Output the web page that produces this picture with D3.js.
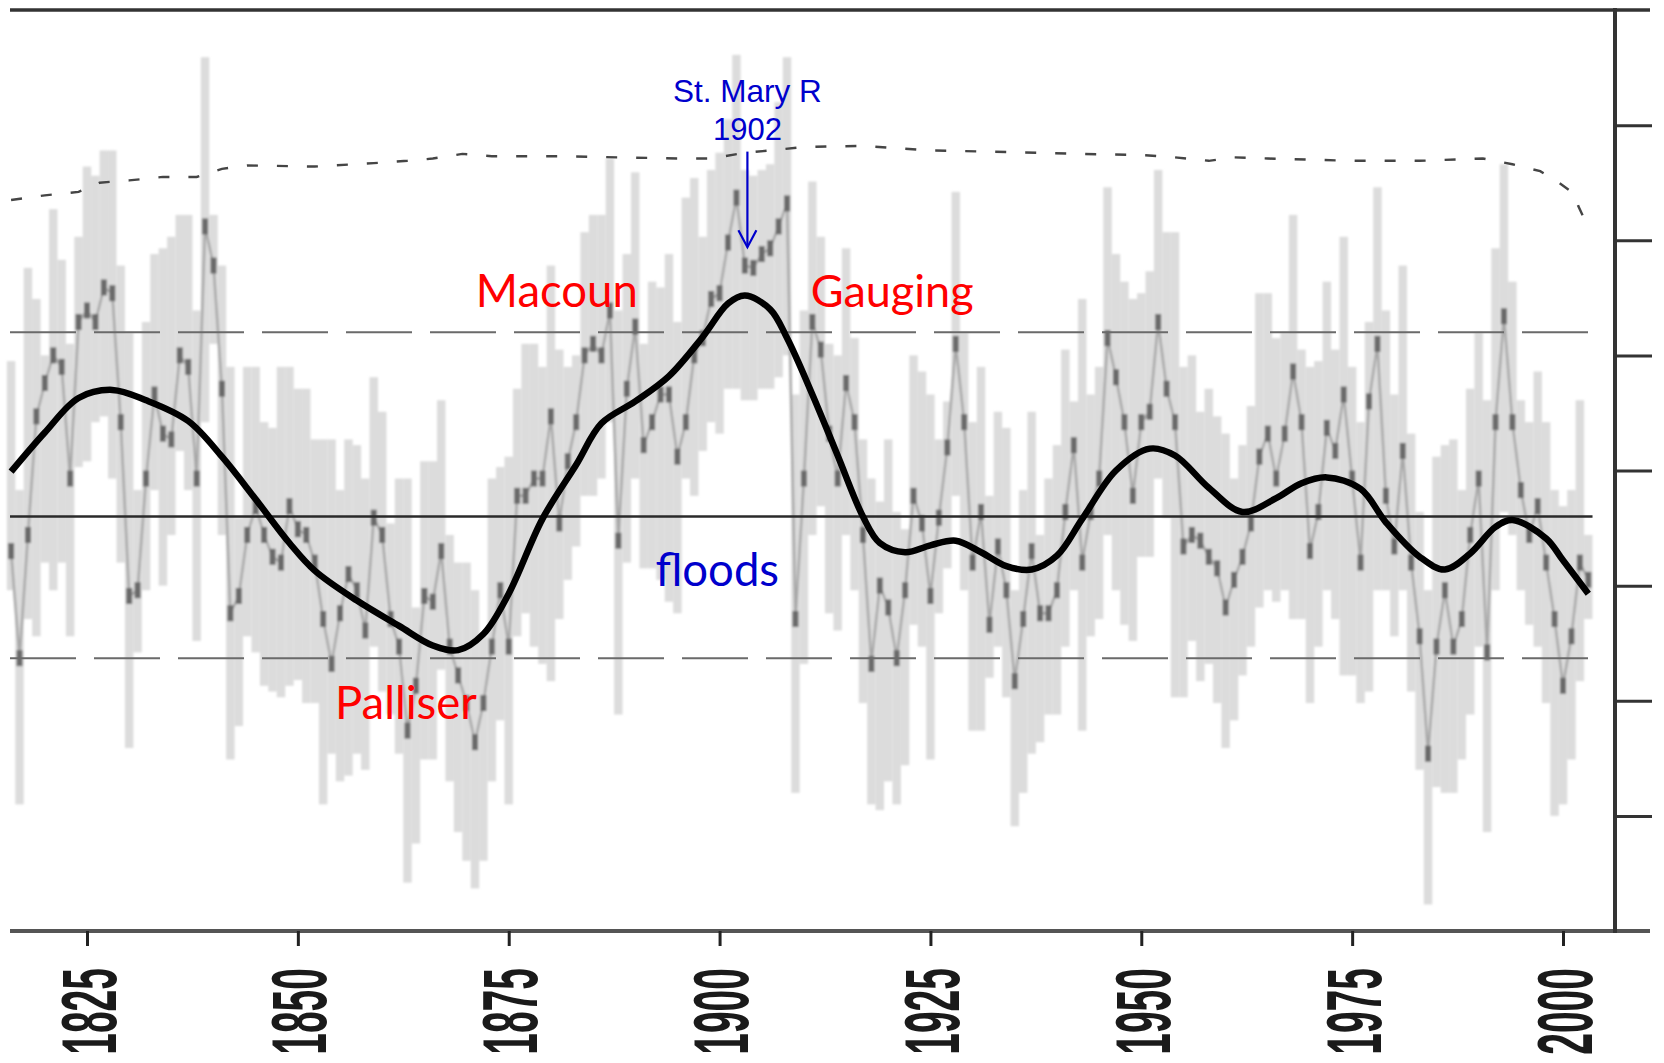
<!DOCTYPE html>
<html>
<head>
<meta charset="utf-8">
<script src="https://cdn.jsdelivr.net/npm/d3@7"></script>
<style>
  html, body { margin: 0; padding: 0; background: #fff; }
  #chart { width: 1664px; height: 1063px; }
</style>
</head>
<body>
<div id="chart"></div>
<script>
// reconstructed annual flow, one value per year from 1816
const years = d3.range(1816, 2004);
const annualFlow = [
  330, 237, 344, 447, 476, 500, 490, 393, 529, 539, 529, 559, 554, 442, 291, 296, 393, 466, 432, 427,
  500, 490, 393, 612, 578, 471, 276, 291, 344, 369, 344, 325, 320, 369, 349, 344, 320, 271, 232, 276,
  310, 296, 261, 359, 344, 271, 247, 174, 213, 291, 286, 330, 247, 222, 198, 164, 198, 247, 296, 247,
  378, 378, 393, 393, 447, 354, 408, 442, 500, 510, 500, 539, 339, 471, 525, 422, 442, 466, 466, 412,
  442, 500, 515, 549, 554, 598, 637, 578, 576, 588, 593, 612, 632, 271, 393, 529, 505, 432, 393, 476,
  442, 344, 232, 300, 281, 237, 296, 378, 354, 291, 359, 420, 510, 442, 320, 364, 266, 334, 296, 217,
  271, 330, 276, 276, 296, 364, 422, 320, 364, 393, 515, 481, 442, 378, 442, 451, 529, 471, 442, 334,
  344, 339, 325, 315, 281, 305, 325, 354, 412, 432, 393, 432, 486, 442, 330, 364, 437, 417, 466, 393,
  320, 460, 510, 378, 334, 417, 320, 256, 154, 247, 296, 247, 271, 344, 393, 242, 442, 534, 442, 383,
  344, 369, 320, 271, 213, 256, 320, 305
];
const upperBound = [
  495, 383, 576, 549, 500, 627, 583, 510, 603, 664, 656, 678, 678, 578, 520, 383, 529, 588, 593, 603,
  622, 622, 539, 759, 622, 578, 490, 359, 490, 490, 442, 437, 490, 490, 471, 471, 427, 427, 427, 383,
  427, 422, 393, 481, 451, 354, 393, 393, 281, 408, 408, 461, 344, 320, 320, 296, 256, 393, 403, 412,
  471, 510, 510, 490, 578, 505, 490, 500, 607, 622, 622, 671, 539, 588, 659, 510, 564, 559, 588, 529,
  637, 654, 603, 661, 676, 705, 761, 661, 656, 661, 666, 720, 759, 466, 539, 651, 603, 510, 500, 593,
  515, 427, 393, 373, 427, 364, 349, 500, 486, 466, 427, 460, 642, 520, 442, 490, 378, 451, 437, 296,
  383, 451, 344, 393, 422, 505, 460, 549, 466, 490, 646, 588, 564, 549, 554, 573, 661, 607, 607, 490,
  500, 451, 471, 447, 432, 393, 422, 456, 554, 554, 515, 520, 622, 505, 490, 495, 564, 505, 603, 490,
  442, 529, 646, 539, 466, 578, 432, 364, 296, 412, 422, 427, 383, 471, 520, 461, 593, 666, 564, 461,
  442, 486, 442, 383, 369, 383, 461, 344
];
const lowerBound = [
  296, 110, 271, 256, 320, 296, 320, 256, 403, 408, 442, 447, 393, 320, 159, 242, 296, 383, 300, 344,
  417, 383, 252, 442, 510, 344, 149, 178, 256, 242, 213, 208, 203, 213, 218, 198, 198, 110, 154, 130,
  135, 154, 140, 247, 208, 188, 154, 42, 76, 149, 149, 227, 130, 86, 61, 37, 61, 130, 183, 110,
  256, 276, 247, 232, 217, 271, 305, 334, 378, 378, 393, 442, 188, 320, 393, 315, 315, 305, 286, 276,
  393, 378, 417, 442, 432, 471, 471, 461, 461, 471, 471, 481, 500, 120, 232, 344, 369, 276, 261, 344,
  296, 198, 110, 105, 130, 110, 144, 266, 247, 149, 276, 315, 378, 296, 174, 174, 220, 247, 203, 91,
  120, 154, 164, 188, 188, 247, 296, 174, 256, 271, 344, 296, 266, 252, 325, 325, 393, 359, 203, 203,
  252, 217, 232, 198, 159, 183, 222, 247, 281, 296, 286, 296, 271, 271, 198, 247, 296, 271, 222, 222,
  198, 208, 296, 296, 256, 296, 208, 140, 23, 125, 120, 120, 149, 188, 247, 86, 296, 364, 344, 296,
  266, 247, 198, 100, 110, 149, 217, 271
];

// smoothed flow (thick black curve)
const smoothYears = [1816, 1820, 1824, 1828, 1832, 1837, 1841, 1845, 1849, 1852, 1857, 1862, 1866, 1869,
  1872, 1875, 1879, 1883, 1886, 1890, 1894, 1898, 1901, 1903, 1906, 1908, 1911, 1914, 1917, 1919, 1922,
  1925, 1928, 1931, 1934, 1937, 1940, 1943, 1947, 1951, 1954, 1958, 1962, 1966, 1969, 1972, 1976, 1979,
  1983, 1986, 1989, 1992, 1994, 1998, 2000, 2003];
const smoothFlow = [399, 433, 463, 470, 461, 443, 412, 375, 337, 313, 287, 265, 248, 244,
  258, 293, 358, 405, 441, 460, 482, 516, 545, 552, 540, 515, 466, 413, 360, 337, 329,
  335, 339, 329, 317, 314, 326, 358, 400, 419, 413, 385, 364, 376, 389, 394, 384, 355,
  325, 314, 328, 351, 357, 341, 322, 293];

// upper dotted curve
const limitYears = [1816, 1820, 1824, 1826.5, 1830, 1834, 1838, 1841, 1844, 1852, 1859, 1863, 1866, 1869.5,
  1873, 1881, 1888, 1895, 1899, 1903, 1906, 1910, 1917, 1925, 1932, 1943, 1950, 1954, 1958, 1961, 1965,
  1975, 1983, 1990.5, 1994, 1997.3, 1999.5, 2001.4, 2001.8, 2002.5, 2003.1];
const limitFlow = [635, 639, 642, 650, 652, 655, 655, 662, 665, 664, 667, 669, 671, 675,
  673, 673, 672, 671, 671, 676, 678, 681, 682, 678, 677, 675, 674, 672, 669, 672, 671,
  669, 669, 671, 666, 660, 650, 640, 630, 619, 608];

const meanFlow = 360;
const bandFlow = [520, 237];
const tickYears = [1825, 1850, 1875, 1900, 1925, 1950, 1975, 2000];
const rightTicks = [100, 200, 300, 400, 500, 600, 700];

const notes = [
  { text: "Macoun", year: 1871.1, v: 542, color: "#ff0000", font: "Lato", size: 45.5, anchor: "start" },
  { text: "Gauging", year: 1910.8, v: 542, color: "#ff0000", font: "Lato", size: 45, anchor: "start" },
  { text: "Palliser", year: 1854.4, v: 184, color: "#ff0000", font: "Lato", size: 45.5, anchor: "start" },
  { text: "floods", year: 1892.4, v: 300, color: "#0000cc", font: "Lato", size: 45.5, anchor: "start" },
  { text: "St. Mary R", year: 1903.3, v: 720, color: "#0000cc", font: "Liberation Sans", size: 31.5, anchor: "middle" },
  { text: "1902", year: 1903.3, v: 687, color: "#0000cc", font: "Liberation Sans", size: 31, anchor: "middle" }
];
const arrowYear = 1903.3;
const arrowFlow = [677, 594];

const width = 1664, height = 1063;
let frame = { left: 10, right: 1615, top: 10, bottom: 931, outer: 1650 };

let x = d3.scaleLinear().domain([1825, 2000]).range([87, 1563]);
let y = d3.scaleLinear().domain([0, 800]).range([frame.bottom, frame.top]);
const bw = x(1) - x(0);

let svg = d3.select("#chart").append("svg")
  .attr("width", width)
  .attr("height", height)
  .attr("viewBox", `0 0 ${width} ${height}`);

let defs = svg.append("defs");
defs.append("filter").attr("id", "soft")
  .append("feGaussianBlur").attr("stdDeviation", 1);
defs.append("filter").attr("id", "softer")
  .append("feGaussianBlur").attr("stdDeviation", 0.6);

// annual ranges
let bars = svg.append("g").attr("filter", "url(#soft)");
bars.selectAll("rect.range")
  .data(years)
  .join("rect")
  .attr("class", "range")
  .attr("x", d => x(d) - bw / 2)
  .attr("width", bw)
  .attr("y", (d, i) => y(upperBound[i]))
  .attr("height", (d, i) => y(lowerBound[i]) - y(upperBound[i]))
  .attr("fill", "#dcdcdc");

let annualLine = d3.line()
  .x((d, i) => x(years[i]))
  .y(d => y(d));
bars.append("path")
  .attr("d", annualLine(annualFlow))
  .attr("fill", "none")
  .attr("stroke", "#a8a8a8")
  .attr("stroke-width", 2.5);

bars.selectAll("rect.mark")
  .data(years)
  .join("rect")
  .attr("class", "mark")
  .attr("x", d => x(d) - 3)
  .attr("width", 6)
  .attr("y", (d, i) => y(annualFlow[i]) - 8)
  .attr("height", 16)
  .attr("fill", "#6a6a6a");

// reference levels
svg.append("line")
  .attr("x1", frame.left).attr("x2", x(2003.5))
  .attr("y1", y(meanFlow)).attr("y2", y(meanFlow))
  .attr("stroke", "#2a2a2a").attr("stroke-width", 2.5);
svg.selectAll("line.band")
  .data(bandFlow)
  .join("line")
  .attr("class", "band")
  .attr("x1", frame.left).attr("x2", x(2003.5))
  .attr("y1", d => y(d)).attr("y2", d => y(d))
  .attr("stroke", "#6a6a6a").attr("stroke-width", 2)
  .attr("stroke-dasharray", "66,18");

// dotted upper curve
let limitLine = d3.line()
  .x((d, i) => x(limitYears[i]))
  .y(d => y(d));
svg.append("path")
  .attr("d", limitLine(limitFlow))
  .attr("fill", "none")
  .attr("stroke", "#444")
  .attr("stroke-width", 2.4)
  .attr("stroke-dasharray", "11,19")
  .attr("filter", "url(#softer)");

// smoothed curve
let smoothLine = d3.line()
  .x((d, i) => x(smoothYears[i]))
  .y(d => y(d))
  .curve(d3.curveCatmullRom.alpha(0.5));
svg.append("path")
  .attr("d", smoothLine(smoothFlow))
  .attr("fill", "none")
  .attr("stroke", "#000")
  .attr("stroke-width", 6.5)
  .attr("stroke-linejoin", "round");

// frame
svg.append("line")
  .attr("x1", frame.left).attr("x2", frame.outer)
  .attr("y1", frame.top).attr("y2", frame.top)
  .attr("stroke", "#333").attr("stroke-width", 3.5);
svg.append("line")
  .attr("x1", frame.left).attr("x2", frame.outer)
  .attr("y1", frame.bottom).attr("y2", frame.bottom)
  .attr("stroke", "#555").attr("stroke-width", 4);
svg.append("line")
  .attr("x1", frame.right).attr("x2", frame.right)
  .attr("y1", frame.top - 2).attr("y2", frame.bottom + 2)
  .attr("stroke", "#333").attr("stroke-width", 4);

let xAxis = g => g
  .attr("transform", `translate(0,${frame.bottom})`)
  .call(d3.axisBottom(x).tickValues(tickYears).tickSize(15).tickFormat(d3.format("d")))
  .call(g => g.select(".domain").remove())
  .call(g => g.selectAll(".tick line").attr("stroke", "#222").attr("stroke-width", 3))
  .call(g => g.selectAll(".tick text")
    .attr("x", 0).attr("y", 0).attr("dy", "0.36em")
    .attr("transform", "translate(0,37) rotate(-90) scale(1,2)")
    .attr("text-anchor", "end")
    .attr("fill", "#1a1a1a")
    .attr("font-family", "Liberation Sans, Arial, sans-serif")
    .attr("font-weight", "bold")
    .attr("font-size", 39));
svg.append("g").call(xAxis);

let yAxis = g => g
  .attr("transform", `translate(${frame.right},0)`)
  .call(d3.axisRight(y).tickValues(rightTicks).tickSize(37).tickFormat(""))
  .call(g => g.select(".domain").remove())
  .call(g => g.selectAll(".tick line").attr("stroke", "#333").attr("stroke-width", 3));
svg.append("g").call(yAxis);

// annotations
svg.selectAll("text.note")
  .data(notes)
  .join("text")
  .attr("class", "note")
  .attr("x", d => x(d.year))
  .attr("y", d => y(d.v))
  .attr("text-anchor", d => d.anchor)
  .attr("fill", d => d.color)
  .attr("font-family", d => d.font)
  .attr("font-size", d => d.size)
  .text(d => d.text);

svg.append("line")
  .attr("x1", x(arrowYear)).attr("x2", x(arrowYear))
  .attr("y1", y(arrowFlow[0])).attr("y2", y(arrowFlow[1]))
  .attr("stroke", "#0000cc").attr("stroke-width", 2.2);
svg.append("path")
  .attr("d", `M${x(arrowYear) - 9},${y(arrowFlow[1]) - 17}L${x(arrowYear)},${y(arrowFlow[1])}L${x(arrowYear) + 9},${y(arrowFlow[1]) - 17}`)
  .attr("fill", "none")
  .attr("stroke", "#0000cc").attr("stroke-width", 2.2);
</script>
</body>
</html>
